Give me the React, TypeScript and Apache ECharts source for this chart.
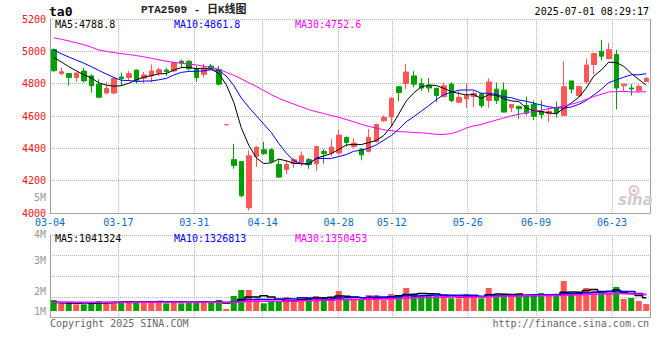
import React, { useEffect, useRef } from 'react';
import * as echarts from 'echarts';

// ---------------- data ----------------
const dates = [
  '03-04','03-05','03-06','03-07','03-10','03-11','03-12','03-13','03-14','03-17',
  '03-18','03-19','03-20','03-21','03-24','03-25','03-26','03-27','03-28','03-31',
  '04-01','04-02','04-03','04-07','04-08','04-09','04-10','04-11','04-14','04-15',
  '04-16','04-17','04-18','04-21','04-22','04-23','04-24','04-25','04-28','04-29',
  '04-30','05-06','05-07','05-08','05-09','05-12','05-13','05-14','05-15','05-16',
  '05-19','05-20','05-21','05-22','05-23','05-26','05-27','05-28','05-29','05-30',
  '06-03','06-04','06-05','06-06','06-09','06-10','06-11','06-12','06-13','06-16',
  '06-17','06-18','06-19','06-20','06-23','06-24','06-25','06-26','06-27','06-30',
];
const xLabelDates = ['03-04','03-17','03-31','04-14','04-28','05-12','05-26','06-09','06-23'];

const opens = [
  5012,4862,4862,4838,4878,4848,4797,4742,4742,4842,
  4838,4884,4834,4848,4866,4884,4878,4939,4939,4894,
  4858,4909,4888,4546,4330,4318,4032,4350,4391,4391,
  4300,4269,4306,4314,4330,4304,4381,4371,4371,4468,
  4411,4395,4381,4442,4570,4594,4781,4801,4848,4801,
  4787,4770,4720,4797,4685,4706,4720,4736,4696,4766,
  4760,4651,4659,4665,4671,4628,4614,4651,4604,4817,
  4726,4811,4919,5000,4955,4980,4787,4773,4756,4813,
];
const closes = [
  4880,4874,4838,4866,4817,4787,4716,4770,4832,4832,
  4862,4821,4854,4878,4886,4874,4929,4929,4892,4838,
  4894,4894,4797,4546,4294,4107,4354,4407,4367,4318,
  4222,4300,4330,4354,4300,4411,4367,4407,4482,4436,
  4432,4360,4468,4547,4590,4710,4746,4872,4797,4773,
  4773,4726,4787,4696,4716,4726,4740,4665,4811,4696,
  4624,4671,4645,4618,4598,4608,4628,4618,4781,4766,
  4783,4915,4986,4970,5010,4773,4797,4767,4783,4832,
];
const lows = [
  4874,4853,4787,4811,4807,4744,4710,4736,4736,4787,
  4817,4801,4801,4807,4848,4848,4874,4898,4882,4813,
  4838,4882,4790,4546,4273,4097,4015,4285,4360,4310,
  4218,4239,4279,4289,4273,4259,4306,4350,4360,4411,
  4401,4326,4375,4436,4564,4533,4691,4766,4777,4756,
  4746,4685,4716,4685,4685,4651,4655,4651,4651,4675,
  4624,4624,4584,4604,4574,4584,4564,4590,4604,4740,
  4716,4797,4858,4943,4949,4641,4756,4726,4746,4813,
];
const highs = [
  5018,4898,4866,4868,4898,4858,4827,4811,4842,4868,
  4878,4888,4872,4919,4898,4898,4935,4949,4945,4909,
  4923,4923,4909,4546,4428,4318,4387,4415,4440,4401,
  4334,4326,4340,4381,4340,4415,4395,4456,4513,4472,
  4462,4401,4519,4553,4604,4716,4781,4923,4878,4834,
  4834,4777,4807,4807,4756,4801,4756,4746,4832,4807,
  4807,4671,4665,4720,4696,4696,4651,4689,4939,4817,
  4787,4955,4990,5071,5051,5010,4801,4797,4797,4842,
];
const ma5 = [
  4962,4935,4905,4880,4855,4836.4,4804.8,4791.2,4784.4,4787.4,
  4802.4,4823.4,4840.2,4849.4,4860.2,4862.6,4884.2,4899.2,4902,4892.4,
  4896.4,4889.4,4863,4793.8,4685,4527.6,4419.6,4341.6,4305.8,4310.6,
  4333.6,4322.8,4307.4,4304.8,4301.2,4339,4352.4,4367.8,4393.4,4420.6,
  4424.8,4423.4,4435.6,4448.6,4479.4,4535,4612.2,4693,4743,4779.6,
  4792.2,4788.2,4771.2,4751,4739.6,4730.2,4733,4708.6,4731.6,4727.6,
  4707.2,4693.4,4689.4,4650.8,4631.2,4628,4619.4,4614,4646.6,4680.2,
  4715.2,4772.6,4846.2,4884,4932.8,4930.8,4907.2,4863.4,4826,4790.4,
];
const ma10 = [
  5008,4985,4965,4946,4927,4905,4882,4860,4838,4821.2,
  4819.4,4814.1,4815.7,4816.9,4823.8,4832.5,4853.8,4869.7,4875.7,4876.3,
  4879.5,4886.8,4881.1,4847.9,4788.7,4712,4654.5,4602.3,4549.8,4497.8,
  4430.6,4371.2,4324.5,4305.3,4305.9,4336.3,4337.6,4337.6,4349.1,4360.9,
  4381.9,4387.9,4401.7,4421,4450,4479.9,4517.8,4564.3,4595.8,4629.5,
  4663.6,4700.2,4732.1,4747,4759.6,4761.2,4760.6,4739.9,4741.3,4733.6,
  4718.7,4713.2,4699,4691.2,4679.4,4667.6,4656.4,4651.7,4648.7,4655.7,
  4671.6,4696,4730.1,4765.3,4806.5,4823,4839.9,4854.8,4855,4861.6,
];
const ma30 = [
  5083,5075,5064,5053,5041,5026,5008,5000,4992,4986,
  4980,4974,4966,4957,4948,4939,4932,4926,4921,4916,
  4908,4900,4890,4870,4852,4830,4806,4783,4758,4731.8,
  4709.8,4690.7,4673.8,4656.7,4639.5,4626.9,4615.3,4603.2,4591.5,4578.3,
  4564,4548.6,4535.8,4524.7,4514.9,4509.4,4503.3,4501.4,4498.2,4496.1,
  4492,4486.4,4486.1,4491.1,4505.2,4525.8,4538.7,4547.3,4562.1,4574.7,
  4588.1,4600.4,4610.9,4619.7,4629.7,4636.2,4644.9,4652,4661.9,4672.9,
  4684.6,4703.1,4720.4,4734.5,4748.5,4750.6,4752.3,4748.8,4748.3,4750.3,
];
const volumes = [
  920000,640000,750000,560000,560000,750000,830000,750000,750000,750000,
  750000,750000,750000,830000,830000,640000,830000,640000,750000,750000,
  750000,750000,920000,170000,1250000,1750000,1750000,920000,640000,750000,
  830000,1170000,830000,1060000,1060000,1250000,1170000,1140000,1670000,920000,
  920000,920000,1330000,1330000,920000,1420000,1330000,1920000,1420000,1250000,
  1250000,1250000,1250000,1060000,1060000,1420000,1330000,1060000,1920000,1330000,
  1330000,1250000,1250000,1330000,1330000,1500000,1250000,1250000,2500000,1420000,
  1420000,1920000,1670000,1670000,1500000,2000000,1000000,1080000,830000,580000,
];
const volMa5 = [
  700000,680000,660000,650000,686000,652000,690000,690000,728000,766000,
  766000,750000,750000,766000,782000,760000,776000,754000,738000,722000,
  744000,728000,784000,668000,768000,968000,1168000,1168000,1262000,1162000,
  978000,862000,844000,928000,990000,1074000,1074000,1136000,1258000,1230000,
  1164000,1114000,1152000,1084000,1084000,1184000,1266000,1384000,1402000,1468000,
  1434000,1418000,1284000,1212000,1174000,1208000,1224000,1186000,1358000,1412000,
  1394000,1378000,1416000,1298000,1298000,1332000,1332000,1332000,1566000,1584000,
  1568000,1702000,1786000,1620000,1636000,1752000,1568000,1450000,1282000,1098000,
];
const volMa10 = [
  720000,710000,700000,690000,680000,680000,690000,700000,710000,726000,
  709000,720000,720000,747000,774000,763000,763000,752000,752000,752000,
  752000,752000,769000,703000,745000,856000,948000,976000,965000,965000,
  973000,1015000,1006000,1095000,1076000,1026000,968000,990000,1093000,1110000,
  1119000,1094000,1144000,1171000,1157000,1174000,1190000,1268000,1243000,1276000,
  1309000,1342000,1334000,1307000,1321000,1321000,1321000,1235000,1285000,1293000,
  1301000,1301000,1301000,1328000,1355000,1363000,1355000,1374000,1432000,1441000,
  1450000,1517000,1559000,1593000,1610000,1660000,1635000,1618000,1451000,1367000,
];
const volMa30 = [
  725000,725000,725000,725000,728000,728000,728000,730000,730000,730000,
  730000,730000,732000,732000,732000,732000,734000,734000,734000,734000,
  736000,736000,737000,719000,737000,772000,807000,814000,812000,814000,
  811000,829000,832000,848000,865000,882000,893000,906000,937000,942000,
  948000,954000,973000,990000,993000,1019000,1035000,1078000,1100000,1117000,
  1134000,1150000,1161000,1191000,1185000,1174000,1160000,1164000,1207000,1226000,
  1243000,1246000,1260000,1269000,1278000,1286000,1289000,1292000,1320000,1337000,
  1353000,1387000,1398000,1409000,1429000,1448000,1437000,1409000,1389000,1367000,
];

const priceMin = 4000;
const priceMax = 5200;
const priceStep = 200;
const volTickLabels = ['5M', '4M', '3M', '2M', '1M'];
const priceMaTexts = ['MA5:4788.8', 'MA10:4861.8', 'MA30:4752.6'];
const volMaTexts = ['MA5:1041324', 'MA10:1326813', 'MA30:1350453'];
const symbolText = 'ta0';
const titleText = 'PTA2509 - 日K线图';
const timeText = '2025-07-01 08:29:17';
const copyrightText = 'Copyright 2025 SINA.COM';
const urlText = 'http://finance.sina.com.cn';

// ---------------- layout & style ----------------
const W = 660;
const H = 360;
const GRID_LEFT = 50;
const GRID_RIGHT = 10;
const MAIN_TOP = 19;
const MAIN_H = 194;
const VOL_TOP = 235;
const VOL_H = 82.5;
const VOL_BASE_Y = 311; // pixel of zero volume
const VOL_PX_PER_UNIT = 12 / 1000000;
const volAxisMin = -(VOL_TOP + VOL_H - VOL_BASE_Y) / VOL_PX_PER_UNIT;
const volAxisMax = (VOL_BASE_Y - VOL_TOP) / VOL_PX_PER_UNIT;
const volLabelY = [197, 234.5, 260.5, 291, 311];
const maTextX = [55, 174, 295];

const UP = '#ff5555';
const DOWN = '#00a000';
const MA_COLORS = ['#000000', '#0000ff', '#ff00ff'];
const BORDER = '#a0a0a0';
const GRID = '#b4b4b4';
const MONO = '"DejaVu Sans Mono", "Liberation Mono", monospace';

const labelInterval = (index: number) => xLabelDates.includes(dates[index]);

function txt(text: string, x: number, y: number, fill: string, font: string, align = 'left') {
  return {
    type: 'text',
    x,
    y,
    z: 100,
    silent: true,
    style: {
      text,
      fill,
      font,
      align,
      verticalAlign: 'middle',
      textAlign: align,
      textVerticalAlign: 'middle',
    },
  };
}

export default function App() {
  const ref = useRef<HTMLDivElement | null>(null);

  useEffect(() => {
    if (!ref.current) return;
    const chart = echarts.init(ref.current, undefined, { renderer: 'svg' });

    const candleData = opens.map((o, i) => {
      const v = [o, closes[i], lows[i], highs[i]];
      if (o === closes[i]) {
        return { value: v, itemStyle: { color: UP, color0: UP, borderColor: UP, borderColor0: UP } };
      }
      return v;
    });
    const volData = volumes.map((v, i) => ({
      value: v,
      itemStyle: { color: closes[i] >= opens[i] ? UP : DOWN },
    }));

    const dotted = { color: GRID, type: [1, 1] as number[], width: 1 };
    const solidLine = { show: true, onZero: false, lineStyle: { color: BORDER, width: 1 } };
    const noLine = { show: false, onZero: false };

    const graphic: any[] = [
      txt(symbolText, 49, 11, '#000', `bold 13px ${MONO}`),
      txt(titleText, 141, 10, '#222', 'bold 11px "Liberation Mono", "Noto Sans CJK SC", monospace'),
      txt(timeText, 649, 11.5, '#000', `10px ${MONO}`, 'right'),
      ...priceMaTexts.map((t, i) => txt(t, maTextX[i], 24, MA_COLORS[i], `10px ${MONO}`)),
      ...volMaTexts.map((t, i) => txt(t, maTextX[i], 238.5, MA_COLORS[i], `10px ${MONO}`)),
      ...volTickLabels.map((t, i) => txt(t, 46, volLabelY[i], '#999', `10px ${MONO}`, 'right')),
      txt(copyrightText, 50, 323, '#666', `10px ${MONO}`),
      txt(urlText, 649, 323, '#666', `10px ${MONO}`, 'right'),
      {
        type: 'circle',
        z: 99,
        silent: true,
        shape: { cx: 634, cy: 190.5, r: 4.5 },
        style: { fill: 'none', stroke: '#e6c4c4', lineWidth: 2 },
      },
      {
        type: 'circle',
        z: 99,
        silent: true,
        shape: { cx: 634, cy: 190.5, r: 1.5 },
        style: { fill: '#d8b0b0' },
      },
      txt('sina', 618, 200, '#cdcdcd', 'italic bold 15px "DejaVu Sans", sans-serif'),
    ];

    const option: any = {
      animation: false,
      backgroundColor: '#ffffff',
      grid: [
        { left: GRID_LEFT, right: GRID_RIGHT, top: MAIN_TOP, height: MAIN_H, containLabel: false },
        { left: GRID_LEFT, right: GRID_RIGHT, top: VOL_TOP, height: VOL_H, containLabel: false },
      ],
      xAxis: [
        { type: 'category', gridIndex: 0, data: dates, boundaryGap: true, position: 'top', show: false, axisLine: noLine },
        {
          type: 'category',
          gridIndex: 0,
          data: dates,
          boundaryGap: false,
          position: 'bottom',
          axisLine: solidLine,
          axisTick: { show: false },
          axisLabel: {
            show: true,
            interval: labelInterval,
            color: '#0a6cc4',
            fontFamily: MONO,
            fontSize: 10,
            lineHeight: 11,
            margin: 4,
          },
          splitLine: { show: true, interval: labelInterval, lineStyle: dotted },
        },
        { type: 'category', gridIndex: 1, data: dates, boundaryGap: true, position: 'top', show: false, axisLine: noLine },
        {
          type: 'category',
          gridIndex: 1,
          data: dates,
          boundaryGap: false,
          position: 'bottom',
          axisLine: solidLine,
          axisTick: { show: false },
          axisLabel: { show: false },
          splitLine: { show: true, interval: labelInterval, lineStyle: dotted },
        },
      ],
      yAxis: [
        {
          type: 'value',
          gridIndex: 0,
          min: priceMin,
          max: priceMax,
          interval: priceStep,
          position: 'left',
          axisLine: solidLine,
          axisTick: { show: false },
          axisLabel: {
            color: '#ee1111',
            fontFamily: MONO,
            fontSize: 10,
            lineHeight: 11,
            margin: 4,
            padding: [0, 0, 8, 0],
            formatter: (v: number) => String(v),
          },
          splitLine: { show: true, lineStyle: dotted },
        },
        {
          type: 'value',
          gridIndex: 0,
          min: priceMin,
          max: priceMax,
          interval: priceStep,
          position: 'right',
          axisLine: solidLine,
          axisTick: { show: false },
          axisLabel: { show: false },
          splitLine: { show: false },
        },
        {
          type: 'value',
          gridIndex: 1,
          min: volAxisMin,
          max: volAxisMax,
          position: 'left',
          axisLine: solidLine,
          axisTick: { show: false },
          axisLabel: { show: false },
          splitLine: { show: false },
        },
        {
          type: 'value',
          gridIndex: 1,
          min: 0,
          max: 4,
          interval: 1,
          position: 'right',
          axisLine: solidLine,
          axisTick: { show: false },
          axisLabel: { show: false },
          splitLine: { show: true, lineStyle: dotted },
        },
      ],
      series: [
        {
          type: 'candlestick',
          xAxisIndex: 0,
          yAxisIndex: 0,
          barWidth: 5,
          data: candleData,
          itemStyle: { color: UP, color0: DOWN, borderColor: UP, borderColor0: DOWN, borderWidth: 1 },
          z: 3,
        },
        ...[ma5, ma10, ma30].map((d, i) => ({
          type: 'line',
          xAxisIndex: 0,
          yAxisIndex: 0,
          data: d,
          showSymbol: false,
          symbol: 'none',
          lineStyle: { color: MA_COLORS[i], width: 1 },
          z: 4,
        })),
        {
          type: 'bar',
          xAxisIndex: 2,
          yAxisIndex: 2,
          barWidth: 6,
          data: volData,
          z: 3,
        },
        ...[volMa5, volMa10, volMa30].map((d, i) => ({
          type: 'line',
          xAxisIndex: 2,
          yAxisIndex: 2,
          data: d,
          step: 'middle',
          showSymbol: false,
          symbol: 'none',
          lineStyle: { color: MA_COLORS[i], width: 1.5 },
          z: 4,
        })),
      ],
      graphic,
    };

    chart.setOption(option);
    return () => chart.dispose();
  }, []);

  return (
    <div
      ref={ref}
      style={{ position: 'fixed', left: 0, top: 0, width: W, height: H, background: '#fff' }}
    />
  );
}
